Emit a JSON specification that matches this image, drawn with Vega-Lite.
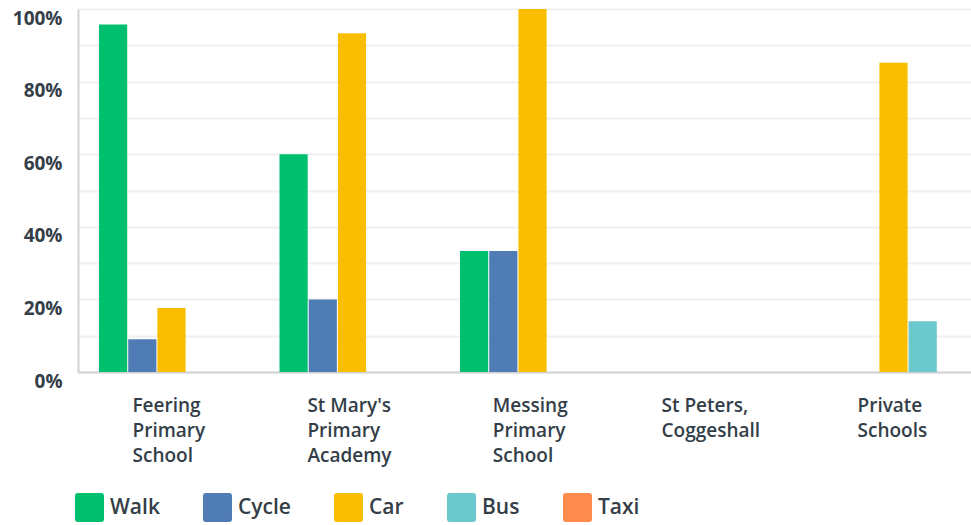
{
  "$schema": "https://vega.github.io/schema/vega-lite/v6.json",
  "width": 893,
  "height": 363,
  "autosize": {"type": "none"},
  "padding": {"left": 78, "top": 9, "right": 0, "bottom": 153},
  "background": "#ffffff",
  "config": {"view": {"stroke": null}, "font": "Open Sans"},
  "data": {
    "values": [
      {"school": "Feering Primary School", "mode": "Walk", "value": 0.957},
      {"school": "Feering Primary School", "mode": "Cycle", "value": 0.09},
      {"school": "Feering Primary School", "mode": "Car", "value": 0.176},
      {"school": "Feering Primary School", "mode": "Bus", "value": 0},
      {"school": "Feering Primary School", "mode": "Taxi", "value": 0},
      {"school": "St Mary's Primary Academy", "mode": "Walk", "value": 0.6},
      {"school": "St Mary's Primary Academy", "mode": "Cycle", "value": 0.2},
      {"school": "St Mary's Primary Academy", "mode": "Car", "value": 0.933},
      {"school": "St Mary's Primary Academy", "mode": "Bus", "value": 0},
      {"school": "St Mary's Primary Academy", "mode": "Taxi", "value": 0},
      {"school": "Messing Primary School", "mode": "Walk", "value": 0.333},
      {"school": "Messing Primary School", "mode": "Cycle", "value": 0.333},
      {"school": "Messing Primary School", "mode": "Car", "value": 1.0},
      {"school": "Messing Primary School", "mode": "Bus", "value": 0},
      {"school": "Messing Primary School", "mode": "Taxi", "value": 0},
      {"school": "St Peters, Coggeshall", "mode": "Walk", "value": 0},
      {"school": "St Peters, Coggeshall", "mode": "Cycle", "value": 0},
      {"school": "St Peters, Coggeshall", "mode": "Car", "value": 0},
      {"school": "St Peters, Coggeshall", "mode": "Bus", "value": 0},
      {"school": "St Peters, Coggeshall", "mode": "Taxi", "value": 0},
      {"school": "Private Schools", "mode": "Walk", "value": 0},
      {"school": "Private Schools", "mode": "Cycle", "value": 0},
      {"school": "Private Schools", "mode": "Car", "value": 0.852},
      {"school": "Private Schools", "mode": "Bus", "value": 0.14},
      {"school": "Private Schools", "mode": "Taxi", "value": 0}
    ]
  },
  "mark": {"type": "bar"},
  "encoding": {
    "x": {
      "field": "school",
      "type": "nominal",
      "scale": {
        "domain": ["Feering Primary School", "St Mary's Primary Academy", "Messing Primary School", "St Peters, Coggeshall", "Private Schools"],
        "paddingInner": 0.1967,
        "paddingOuter": 0.072,
        "align": 0.808
      },
      "axis": {
        "title": null,
        "domainColor": "#d0d2d3",
        "domainWidth": 2,
        "ticks": false,
        "tickSize": 0,
        "labelAngle": 0,
        "labelAlign": "left",
        "labelBaseline": "top",
        "labelPadding": 24,
        "labelFont": "Open Sans",
        "labelFontSize": 19,
        "labelFontWeight": 600,
        "labelColor": "#333e48",
        "labelLineHeight": 25,
        "labelLimit": 0,
        "labelExpr": "datum.value === 'Feering Primary School' ? ['Feering','Primary','School'] : datum.value === 'Messing Primary School' ? ['Messing','Primary','School'] : datum.value === 'St Peters, Coggeshall' ? ['St Peters,','Coggeshall'] : datum.value === 'Private Schools' ? ['Private','Schools'] : [\"St Mary's\",'Primary','Academy']",
        "labelOffset": {
          "condition": [
            {"test": "datum.value === 'Feering Primary School'", "value": -39},
            {"test": "datum.value === 'Messing Primary School'", "value": -39.7},
            {"test": "datum.value === 'St Peters, Coggeshall'", "value": -51.5},
            {"test": "datum.value === 'Private Schools'", "value": -36}
          ],
          "value": -44.6
        }
      }
    },
    "xOffset": {
      "field": "mode",
      "type": "nominal",
      "scale": {"domain": ["Walk", "Cycle", "Car", "Bus", "Taxi"], "paddingInner": 0.035, "paddingOuter": 0}
    },
    "y": {
      "field": "value",
      "type": "quantitative",
      "scale": {"domain": [0, 1], "nice": false, "zero": true},
      "axis": {
        "title": null,
        "values": [0, 0.1, 0.2, 0.3, 0.4, 0.5, 0.6, 0.7, 0.8, 0.9, 1.0],
        "labelExpr": "round(datum.value * 10) % 2 == 0 ? round(datum.value * 100) + '%' : ''",
        "grid": true,
        "gridColor": "#efefef",
        "gridWidth": 2,
        "domainColor": "#d0d2d3",
        "domainWidth": 2,
        "ticks": false,
        "tickSize": 0,
        "labelPadding": 16,
        "labelOffset": 9,
        "labelFont": "Open Sans",
        "labelFontSize": 19,
        "labelFontWeight": "bold",
        "labelColor": "#333e48"
      }
    },
    "color": {
      "field": "mode",
      "type": "nominal",
      "scale": {
        "domain": ["Walk", "Cycle", "Car", "Bus", "Taxi"],
        "range": ["#00bf6f", "#507cb6", "#f9be00", "#6bc8cd", "#ff8b4f"]
      },
      "legend": {
        "title": null,
        "orient": "none",
        "direction": "horizontal",
        "legendX": -3,
        "legendY": 484,
        "symbolType": "M-0.8,-1 L0.8,-1 Q1,-1 1,-0.8 L1,0.8 Q1,1 0.8,1 L-0.8,1 Q-1,1 -1,0.8 L-1,-0.8 Q-1,-1 -0.8,-1 Z",
        "symbolSize": 841,
        "symbolOpacity": 1,
        "symbolStrokeWidth": 0,
        "labelOffset": 6,
        "labelFont": "Open Sans",
        "labelFontSize": 21,
        "labelFontWeight": 600,
        "labelColor": "#333e48",
        "columnPadding": 43
      }
    }
  }
}
